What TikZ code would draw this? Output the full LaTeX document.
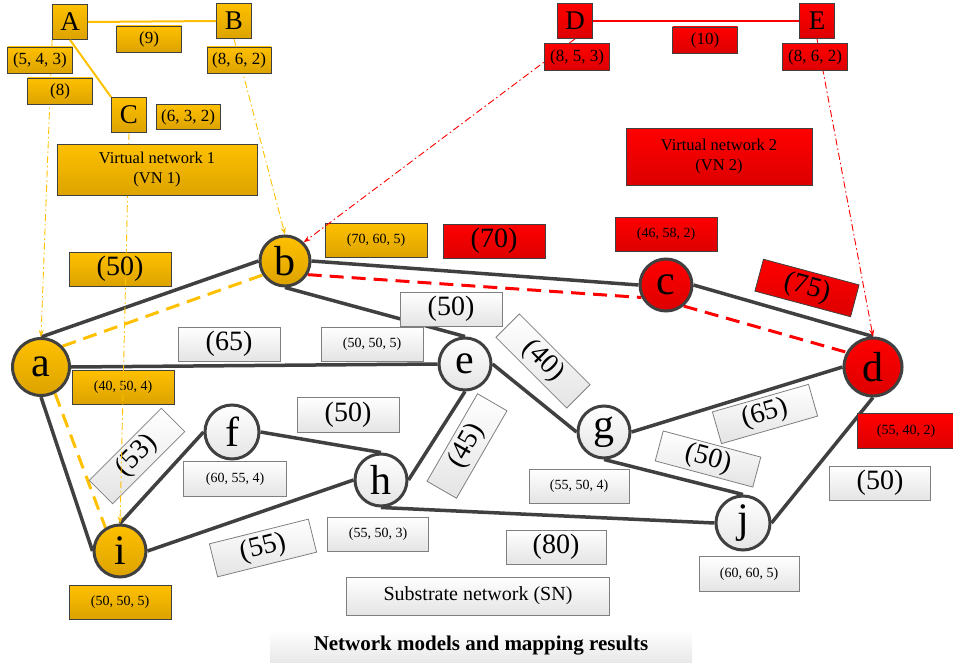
\documentclass[tikz,border=0pt]{standalone}
\usepackage{fontspec}
\setmainfont{Liberation Serif}
\usetikzlibrary{arrows.meta}
\definecolor{edgegray}{HTML}{404040}
\definecolor{boxgray}{HTML}{7F7F7F}
\definecolor{goldtop}{HTML}{FFC000}
\definecolor{goldbot}{HTML}{DCA300}
\definecolor{redtop}{HTML}{FF0000}
\definecolor{redbot}{HTML}{DD0000}
\definecolor{whitebot}{HTML}{E4E4E4}
\definecolor{goldline}{HTML}{FFC000}
\definecolor{redline}{HTML}{FF0000}
\pgfdeclarelayer{edges}
\pgfdeclarelayer{arr}
\pgfdeclarelayer{top}
\pgfsetlayers{edges,main,arr,top}
\tikzset{
  sn/.style={circle, draw=edgegray, line width=3pt, inner sep=0pt, minimum size=52pt,
    font=\fontsize{42}{42}\selectfont},
  sngold/.style={sn, top color=goldtop, bottom color=goldbot},
  snred/.style={sn, top color=redtop, bottom color=redbot},
  snwhite/.style={sn, top color=white, bottom color=whitebot},
  lbl/.style={rectangle, inner sep=0pt, minimum width=102pt, minimum height=34pt,
    font=\fontsize{14}{14}\selectfont},
  biglbl/.style={lbl, font=\fontsize{28}{28}\selectfont},
  goldlbl/.style={draw=edgegray, line width=0.8pt, top color=goldtop, bottom color=goldbot},
  redlbl/.style={draw=edgegray, line width=0.8pt, top color=redtop, bottom color=redbot},
  whitelbl/.style={draw=boxgray, line width=0.8pt, top color=white, bottom color=whitebot},
  edge/.style={draw=edgegray, line width=3.5pt},
  golddash/.style={draw=goldline, line width=3pt, dash pattern=on 14pt off 8pt},
  reddash/.style={draw=redline, line width=3pt, dash pattern=on 14pt off 8pt},
  maparrow/.style={line width=0.9pt, dash pattern=on 7pt off 3pt on 1.5pt off 3pt,
    -{Stealth[length=7pt,width=5pt]}},
  vnletter/.style={rectangle, draw=edgegray, line width=0.8pt, inner sep=0pt,
    minimum size=35pt, font=\fontsize{27}{27}\selectfont},
  vnlbl/.style={rectangle, draw=edgegray, line width=0.8pt, inner sep=0pt,
    minimum width=65pt, minimum height=26pt, font=\fontsize{17}{17}\selectfont},
  vnbox/.style={rectangle, draw=edgegray, line width=0.8pt, inner sep=0pt, align=center,
    font=\fontsize{16.5}{20}\selectfont},
}
\begin{document}
\begin{tikzpicture}[x=1pt,y=-1pt]
\useasboundingbox (0,0) rectangle (953,666);
% ---------- substrate nodes ----------
\node[sngold, minimum size=57pt] (a) at (41,367) {a};
\node[sngold, minimum size=50pt] (b) at (285,261) {b};
\node[snred] (c) at (666,285) {c};
\node[snred, minimum size=58pt] (d) at (873,367) {d};
\node[snwhite] (e) at (465,364) {e};
\node[snwhite, minimum size=54pt] (f) at (232,432) {f};
\node[snwhite] (g) at (604,432) {g};
\node[snwhite] (h) at (381,480) {h};
\node[sngold] (i) at (120,551) {i};
\node[snwhite, minimum size=54pt] (j) at (743,523) {j};
% ---------- substrate links ----------
\begin{pgfonlayer}{edges}
\draw[edge] (a.north) -- (b.west);
\draw[edge] (a.east) -- (e.west);
\draw[edge] (a.south) -- (i.west);
\draw[edge] (b.south) -- (e.north);
\draw[edge] (b.east) -- (c.west);
\draw[edge] (c.east) -- (d.north);
\draw[edge] (e.east) -- (g.west);
\draw[edge] (e.south) -- (h.east);
\draw[edge] (g.east) -- (d.west);
\draw[edge] (g.south) -- (j.north);
\draw[edge] (i.north) -- (f.west);
\draw[edge] (i.east) -- (h.west);
\draw[edge] (f.east) -- (h.north);
\draw[edge] (h.south) -- (j.west);
\draw[edge] (j.east) -- (d.south);
% mapped paths
\draw[golddash] (a.44) -- (b.212);
\draw[golddash] (a.-62) -- (i.122);
\draw[reddash] (b.-31) -- (c.207);
\draw[reddash] (c.-50) -- (d.151);
\end{pgfonlayer}
% ---------- substrate labels ----------
\node[lbl, goldlbl] (lb) at (376,240) {(70, 60, 5)};
\node[biglbl, redlbl] (lbc) at (494,241) {(70)};
\node[lbl, redlbl] (lc) at (666,234) {(46, 58, 2)};
\node[biglbl, redlbl, minimum width=99pt, minimum height=33pt, rotate=-15] (lcd) at (807,288) {(75)};
\node[biglbl, goldlbl] (lab) at (120,269) {(50)};
\node[biglbl, whitelbl] (lae) at (229,344) {(65)};
\node[lbl, whitelbl] (le) at (372,344) {(50, 50, 5)};
\node[biglbl, whitelbl] (lbe) at (451,309) {(50)};
\node[lbl, goldlbl] (la) at (123,387) {(40, 50, 4)};
\node[biglbl, whitelbl, minimum width=100pt, minimum height=33pt, rotate=-45] (leg) at (543,361) {(40)};
\node[biglbl, whitelbl, minimum width=101pt, rotate=60] (leh) at (467,446) {(45)};
\node[biglbl, whitelbl, minimum height=33pt, rotate=45] (lai) at (137,456) {(53)};
\node[biglbl, whitelbl, minimum height=35pt] (lfh) at (348,415) {(50)};
\node[lbl, whitelbl, minimum width=103pt, minimum height=35pt] (lf) at (235,479) {(60, 55, 4)};
\node[biglbl, whitelbl, rotate=14] (lih) at (263,548) {(55)};
\node[lbl, whitelbl, minimum width=101pt] (lh) at (378,534) {(55, 50, 3)};
\node[lbl, goldlbl] (li) at (120,602) {(50, 50, 5)};
\node[rectangle, draw=boxgray, line width=0.8pt, top color=white, bottom color=whitebot,
  minimum width=263pt, minimum height=38pt, inner sep=0pt, font=\fontsize{20}{20}\selectfont] (sn) at (478,596) {Substrate network (SN)};
\node[biglbl, whitelbl, minimum width=100pt] (lhj) at (556,547) {(80)};
\node[lbl, whitelbl, minimum width=100pt] (lg) at (579,486) {(55, 50, 4)};
\node[lbl, whitelbl, minimum width=100pt, minimum height=35pt] (lj) at (749,574) {(60, 60, 5)};
\node[biglbl, whitelbl, minimum width=101pt] (ljd) at (880,483) {(50)};
\node[biglbl, whitelbl, minimum width=101pt, minimum height=31pt, rotate=-15] (lgj) at (708,459) {(50)};
\node[biglbl, whitelbl, minimum width=100pt, minimum height=33pt, rotate=16] (lgd) at (765,414) {(65)};
\node[lbl, redlbl, minimum width=97pt, minimum height=35pt] (ld) at (906,431) {(55, 40, 2)};
% caption
\node[rectangle, top color=white, bottom color=black!9, minimum width=422pt, minimum height=32pt,
  inner sep=0pt, font=\bfseries\fontsize{21}{21}\selectfont] (cap) at (481,646) {Network models and mapping results};
% ---------- virtual networks ----------
\begin{pgfonlayer}{top}
\node[vnletter, top color=goldtop, bottom color=goldbot] (A) at (70,22) {A};
\node[vnletter, top color=goldtop, bottom color=goldbot] (B) at (234,21) {B};
\node[vnletter, top color=goldtop, bottom color=goldbot] (C) at (129,115) {C};
\draw[goldline, line width=2pt] (A.east) -- (B.west);
\draw[goldline, line width=2pt] (A.south) -- (C.north west);
\node[vnlbl, top color=goldtop, bottom color=goldbot] (lAB) at (149,39) {(9)};
\node[vnlbl, top color=goldtop, bottom color=goldbot] (lA) at (40,60) {(5, 4, 3)};
\node[vnlbl, top color=goldtop, bottom color=goldbot] (lAC) at (60,91) {(8)};
\node[vnlbl, top color=goldtop, bottom color=goldbot, minimum width=64pt, minimum height=25pt] (lC) at (188,117) {(6, 3, 2)};
\node[vnlbl, top color=goldtop, bottom color=goldbot, minimum width=64pt] (lB) at (239,60) {(8, 6, 2)};
\node[vnbox, top color=goldtop, bottom color=goldbot, minimum width=200pt, minimum height=51pt] (vn1) at (157,170) {Virtual network 1\\(VN 1)};
\node[vnletter, top color=redtop, bottom color=redbot] (D) at (575,21) {D};
\node[vnletter, top color=redtop, bottom color=redbot] (E) at (817,21) {E};
\draw[redline, line width=2pt] (D.east) -- (E.west);
\node[vnlbl, top color=redtop, bottom color=redbot] (lDE) at (705,40) {(10)};
\node[vnlbl, top color=redtop, bottom color=redbot, minimum height=27pt] (lD) at (577,57) {(8, 5, 3)};
\node[vnlbl, top color=redtop, bottom color=redbot, minimum height=27pt] (lE) at (815,57) {(8, 6, 2)};
\node[vnbox, top color=redtop, bottom color=redbot, minimum width=186pt, minimum height=57pt] (vn2) at (719,157) {Virtual network 2\\(VN 2)};
\end{pgfonlayer}
% ---------- mapping arrows ----------
\begin{pgfonlayer}{arr}
\draw[maparrow, goldline] (A.south west) -- (a.north);
\draw[maparrow, goldline] (C.south) -- (i.north);
\draw[maparrow, goldline] (B.south) -- (b.north);
\draw[maparrow, redline] (D.south) -- (b.north east);
\draw[maparrow, redline] (E.south) -- (d.north);
\end{pgfonlayer}
\end{tikzpicture}
\end{document}
